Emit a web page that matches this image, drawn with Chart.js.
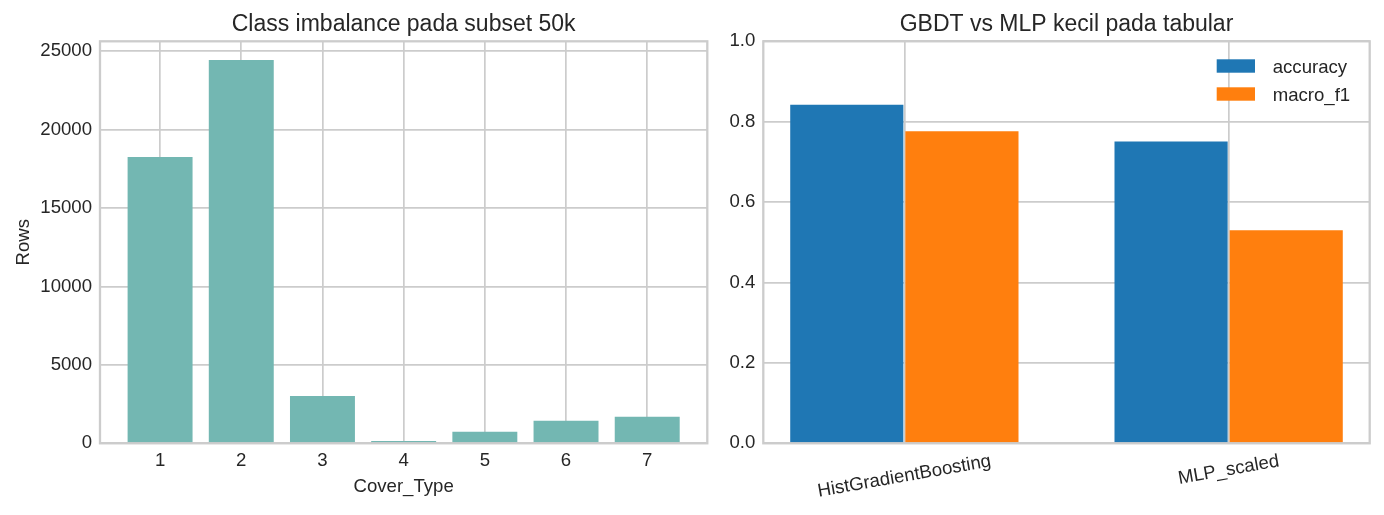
<!DOCTYPE html>
<html>
<head>
<meta charset="utf-8">
<script src="https://cdn.jsdelivr.net/npm/chart.js@4.4.1/dist/chart.umd.min.js"></script>
<style>
  html, body { margin: 0; padding: 0; background: #fff; }
  body { width: 1384px; height: 515px; position: relative; overflow: hidden; }
  .panel { position: absolute; top: 0; height: 515px; }
  #left { left: 0; width: 710px; }
  #right { left: 710px; width: 674px; }
</style>
</head>
<body>
<div class="panel" id="left"><canvas id="classChart"></canvas></div>
<div class="panel" id="right"><canvas id="modelChart"></canvas></div>
<script>
// ===== DATA =====
const coverTypes = [1, 2, 3, 4, 5, 6, 7];
const rowCounts = [18250, 24430, 3020, 150, 730, 1430, 1690];
const rowTicks = [0, 5000, 10000, 15000, 20000, 25000];

const models = ['HistGradientBoosting', 'MLP_scaled'];
const accuracy = [0.842, 0.751];
const macroF1 = [0.776, 0.530];
const scoreTicks = [0, 0.2, 0.4, 0.6, 0.8, 1.0];

// ===== STYLE =====
const FONT = "'Liberation Sans', Arial, sans-serif";
const TEXT = '#262626';
const GRID = '#cccccc';
const TICK_SIZE = 18.6;
const TITLE_SIZE = 23;

Chart.defaults.font.family = FONT;
Chart.defaults.color = TEXT;

// frame around the plot area (drawn over the bars like matplotlib spines)
const frame = {
  id: 'frame',
  afterDatasetsDraw(chart) {
    const { ctx, chartArea: a } = chart;
    ctx.save();
    ctx.strokeStyle = GRID;
    ctx.lineWidth = 2.3;
    ctx.strokeRect(a.left, a.top, a.right - a.left, a.bottom - a.top);
    ctx.restore();
  }
};

// rotated, centred x labels + legend inside the plot for the right chart
const modelDecor = {
  id: 'modelDecor',
  afterDraw(chart) {
    const { ctx, chartArea: a, scales: { x } } = chart;
    const angle = 10 * Math.PI / 180;
    ctx.save();
    ctx.font = TICK_SIZE + 'px ' + FONT;
    ctx.fillStyle = TEXT;
    ctx.textAlign = 'center';
    ctx.textBaseline = 'middle';
    models.forEach((name, i) => {
      const w = ctx.measureText(name).width;
      const cx = x.getPixelForValue(i);
      const cy = a.bottom + 17.9 + w * Math.sin(angle) / 2;
      ctx.save();
      ctx.translate(cx, cy);
      ctx.rotate(-angle);
      ctx.fillText(name, 0, 0);
      ctx.restore();
    });

    ctx.textAlign = 'left';
    chart.data.datasets.forEach((ds, i) => {
      const top = a.top + 18 + i * 28;
      ctx.fillStyle = ds.backgroundColor;
      ctx.fillRect(a.right - 153, top, 38.3, 13.4);
      ctx.fillStyle = TEXT;
      ctx.fillText(ds.label, a.right - 97, top + 8.5);
    });
    ctx.restore();
  }
};

const gridOpts = { color: GRID, lineWidth: 1.7, drawTicks: false, offset: false };
const titleOpts = text => ({
  display: true,
  text: text,
  fullSize: false,
  color: TEXT,
  font: { size: TITLE_SIZE, weight: 'normal' },
  padding: { top: 10.8, bottom: 2.9 }
});

// ===== CLASS IMBALANCE =====
new Chart(document.getElementById('classChart'), {
  type: 'bar',
  data: {
    datasets: [{
      label: 'Rows',
      data: coverTypes.map((c, i) => ({ x: c, y: rowCounts[i] })),
      backgroundColor: '#73b7b2',
      categoryPercentage: 0.8,
      barPercentage: 1
    }]
  },
  options: {
    responsive: true,
    maintainAspectRatio: false,
    animation: false,
    layout: { padding: { left: 0, right: 2.7, top: 0, bottom: 0 } },
    plugins: {
      legend: { display: false },
      tooltip: { enabled: false },
      title: titleOpts('Class imbalance pada subset 50k')
    },
    scales: {
      x: {
        type: 'linear',
        min: 0.26,
        max: 7.74,
        offset: false,
        grid: gridOpts,
        border: { display: false },
        ticks: { padding: 6, font: { size: TICK_SIZE }, color: TEXT, callback: v => String(v) },
        afterBuildTicks: s => { s.ticks = coverTypes.map(v => ({ value: v })); },
        afterFit: s => { s.height = 71.7; },
        title: {
          display: true,
          text: 'Cover_Type',
          color: TEXT,
          font: { size: TICK_SIZE },
          padding: { top: 0, bottom: 17.3 }
        }
      },
      y: {
        min: 0,
        max: 25620,
        grid: gridOpts,
        border: { display: false },
        ticks: { padding: 8, font: { size: TICK_SIZE }, color: TEXT, callback: v => String(v) },
        afterBuildTicks: s => { s.ticks = rowTicks.map(v => ({ value: v })); },
        afterFit: s => { s.width = 100; },
        title: {
          display: true,
          text: 'Rows',
          color: TEXT,
          font: { size: TICK_SIZE },
          padding: 13
        }
      }
    }
  },
  plugins: [frame]
});

// ===== GBDT vs MLP =====
new Chart(document.getElementById('modelChart'), {
  type: 'bar',
  data: {
    datasets: [
      {
        label: 'accuracy',
        data: models.map((m, i) => ({ x: i, y: accuracy[i] })),
        backgroundColor: '#1f77b4',
        categoryPercentage: 0.71,
        barPercentage: 0.983
      },
      {
        label: 'macro_f1',
        data: models.map((m, i) => ({ x: i, y: macroF1[i] })),
        backgroundColor: '#ff7f0e',
        categoryPercentage: 0.71,
        barPercentage: 0.983
      }
    ]
  },
  options: {
    responsive: true,
    maintainAspectRatio: false,
    animation: false,
    layout: { padding: { left: 0, right: 14.3, top: 0, bottom: 0 } },
    plugins: {
      legend: { display: false },
      tooltip: { enabled: false },
      title: titleOpts('GBDT vs MLP kecil pada tabular')
    },
    scales: {
      x: {
        type: 'linear',
        min: -0.435,
        max: 1.435,
        offset: false,
        grid: gridOpts,
        border: { display: false },
        ticks: { display: false },
        afterBuildTicks: s => { s.ticks = models.map((m, i) => ({ value: i })); },
        afterFit: s => { s.height = 71.7; }
      },
      y: {
        min: 0,
        max: 1,
        grid: gridOpts,
        border: { display: false },
        ticks: { padding: 8, font: { size: TICK_SIZE }, color: TEXT, callback: v => v.toFixed(1) },
        afterBuildTicks: s => { s.ticks = scoreTicks.map(v => ({ value: v })); },
        afterFit: s => { s.width = 53.3; }
      }
    }
  },
  plugins: [frame, modelDecor]
});
</script>
</body>
</html>
